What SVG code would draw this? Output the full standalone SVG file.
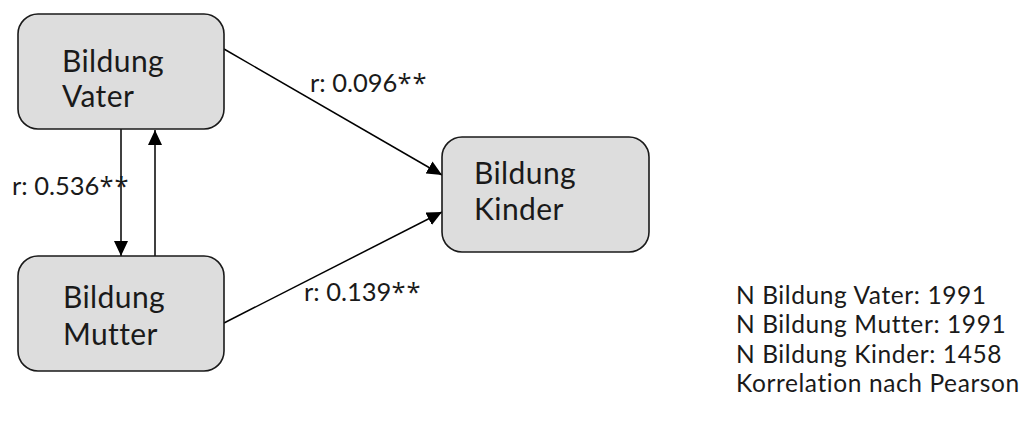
<svg xmlns="http://www.w3.org/2000/svg" width="1023" height="421" viewBox="0 0 1023 421">
<style>
.box{fill:#dddddd;stroke:#1a1a1a;stroke-width:1.6}
.t{font-family:Lato,"Open Sans",sans-serif;fill:#1a1a1a;font-variant-ligatures:none}
.bt{font-size:30px;letter-spacing:0.4px}
.lt{font-size:25.5px}
.st{font-family:"Open Sans","Noto Sans",sans-serif;letter-spacing:1px}
.nt{font-size:24.5px;letter-spacing:0.6px}
.ln{stroke:#000;stroke-width:1.5;fill:none}
</style>
<defs>
<marker id="ah" viewBox="0 0 15 14" refX="15" refY="7" markerWidth="15" markerHeight="14" markerUnits="userSpaceOnUse" orient="auto">
<path d="M0,0 L15,7 L0,14 Z" fill="#000"/>
</marker>
</defs>
<rect width="1023" height="421" fill="#fff"/>
<g id="connectors">
<line class="ln" x1="121" y1="129" x2="121" y2="256" marker-end="url(#ah)"/>
<line class="ln" x1="155" y1="257" x2="155" y2="130" marker-end="url(#ah)"/>
<line class="ln" x1="224" y1="49" x2="442" y2="175" marker-end="url(#ah)"/>
<line class="ln" x1="224" y1="323" x2="442" y2="212" marker-end="url(#ah)"/>
</g>
<g id="vater">
<rect class="box" x="18" y="14" width="206" height="115" rx="20"/>
<text class="t bt"><tspan x="62" y="72">Bildung</tspan><tspan x="62" y="107">Vater</tspan></text>
</g>
<g id="mutter">
<rect class="box" x="18" y="256" width="206" height="115" rx="20"/>
<text class="t bt"><tspan x="63" y="308">Bildung</tspan><tspan x="63" y="345">Mutter</tspan></text>
</g>
<g id="kinder">
<rect class="box" x="442" y="137" width="207" height="115" rx="20"/>
<text class="t bt"><tspan x="474" y="184">Bildung</tspan><tspan x="474" y="220">Kinder</tspan></text>
</g>
<g id="labels">
<text class="t lt" x="310" y="92">r: 0.096<tspan class="st">**</tspan></text>
<text class="t lt" x="12" y="195">r: 0.536<tspan class="st">**</tspan></text>
<text class="t lt" x="304" y="301">r: 0.139<tspan class="st">**</tspan></text>
</g>
<g id="notes">
<text class="t nt"><tspan x="736" y="304">N Bildung Vater: 1991</tspan><tspan x="736" y="333">N Bildung Mutter: 1991</tspan><tspan x="736" y="363">N Bildung Kinder: 1458</tspan><tspan x="736" y="392">Korrelation nach Pearson</tspan></text>
</g>
</svg>
